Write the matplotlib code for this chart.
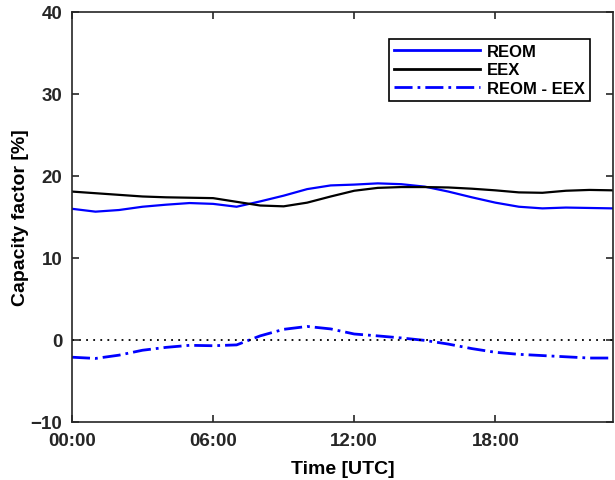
import numpy as np
import matplotlib
matplotlib.use('Agg')
import matplotlib.pyplot as plt

# hourly capacity factor values [%]
hours = np.arange(0, 24)
reom = [16.0, 15.65, 15.85, 16.25, 16.5, 16.7, 16.6, 16.25, 16.9, 17.6, 18.4, 18.85,
        18.95, 19.1, 19.0, 18.7, 18.1, 17.4, 16.75, 16.25, 16.05, 16.15, 16.1, 16.05]
eex = [18.1, 17.9, 17.7, 17.5, 17.4, 17.35, 17.3, 16.85, 16.4, 16.3, 16.75, 17.5,
       18.2, 18.55, 18.65, 18.65, 18.6, 18.45, 18.25, 18.0, 17.95, 18.2, 18.3, 18.25]
diff = [-2.1, -2.25, -1.85, -1.25, -0.9, -0.65, -0.7, -0.6, 0.5, 1.3, 1.65, 1.35,
        0.73, 0.5, 0.25, -0.05, -0.5, -1.05, -1.5, -1.75, -1.9, -2.05, -2.2, -2.2]

xticks = [0, 6, 12, 18]
xticklabels = ['00:00', '06:00', '12:00', '18:00']
yticks = [-10, 0, 10, 20, 30, 40]

plt.rcParams['font.family'] = ['Liberation Sans', 'DejaVu Sans']
plt.rcParams['font.weight'] = 'bold'
plt.rcParams['lines.scale_dashes'] = False

fig = plt.figure(figsize=(6.15, 4.81), dpi=100)
ax = fig.add_axes([0.117, 0.1206, 0.8797, 0.8524])

ax.plot(hours, reom, color='#0000ff', lw=1.6, label='REOM')
ax.plot(hours, eex, color='black', lw=1.6, label='EEX')
ax.plot(hours, diff, color='#0000ff', lw=2.0, linestyle=(0, (13, 3.6, 2, 3.6)),
        label='REOM - EEX')
ax.axhline(0, color='black', lw=1.3, linestyle=(0, (1.3, 3.8)))

ax.set_xlim(0, 23)
ax.set_ylim(-10, 40)
ax.set_xticks(xticks)
ax.set_xticklabels(xticklabels)
ax.set_yticks(yticks)
ax.tick_params(direction='in', length=5, width=1.2, top=True, right=True,
               labelsize=13.5, colors='#262626')
ax.tick_params(axis='x', pad=7)
ax.tick_params(axis='y', pad=7)
for lab in ax.get_xticklabels() + ax.get_yticklabels():
    lab.set_fontweight('bold')
for s in ax.spines.values():
    s.set_linewidth(1.2)
    s.set_color('#262626')

ax.set_xlabel('Time [UTC]', fontsize=14, fontweight='bold', labelpad=8)
ax.set_ylabel('Capacity factor [%]', fontsize=14, fontweight='bold', labelpad=1)

leg = ax.legend(loc='upper right', bbox_to_anchor=(0.958, 0.934), borderaxespad=0,
                fancybox=False, edgecolor='black', framealpha=1, handlelength=5.15,
                handletextpad=0.42, labelspacing=0.2, borderpad=0.3,
                prop={'size': 12, 'weight': 'bold'})
leg.get_frame().set_linewidth(1.2)
for h in leg.get_lines():
    h.set_linewidth(2.0)

fig.savefig('out.png', dpi=100)
